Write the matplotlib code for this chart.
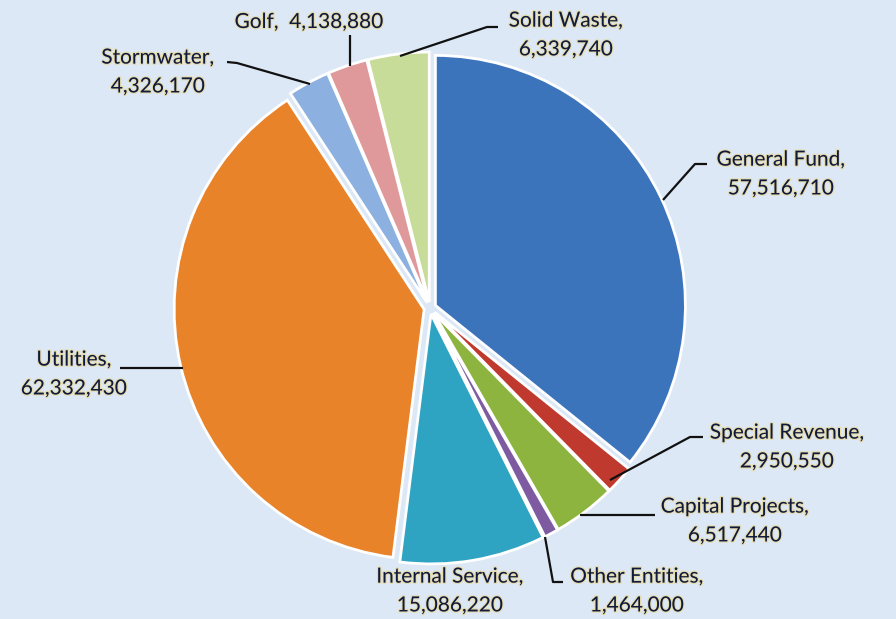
import matplotlib.pyplot as plt
import matplotlib.patheffects as pe

# Data (clockwise from 12 o'clock)
categories = ["General Fund", "Special Revenue", "Capital Projects", "Other Entities",
              "Internal Service", "Utilities", "Stormwater", "Golf", "Solid Waste"]
values = [57516710, 2950550, 6517440, 1464000, 15086220, 62332430, 4326170, 4138880, 6339740]
colors = ["#3c74bc", "#c0392f", "#8db43e", "#7e5aa0", "#2fa3c2",
          "#e8832a", "#8cb0e0", "#e0999a", "#c8dc9a"]

# label text layout, in pixel coords of the 896x619 image
label_pos = {
    "General Fund": (781, 174),
    "Special Revenue": (787, 447),
    "Capital Projects": (735, 521),
    "Other Entities": (637, 591),
    "Internal Service": (450, 591),
    "Utilities": (74, 374),
    "Stormwater": (158, 72),
    "Golf": (309, 22),
    "Solid Waste": (566, 35),
}
leaders = {
    "General Fund": [(663, 200), (695, 164), (707, 164)],
    "Special Revenue": [(610, 480), (690, 437), (703, 437)],
    "Capital Projects": [(580, 515), (655, 515)],
    "Other Entities": [(545, 537), (553, 582), (563, 582)],
    "Utilities": [(120, 368), (183, 368)],
    "Stormwater": [(227, 62), (237, 63), (310, 84)],
    "Golf": [(350, 35), (350, 66)],
    "Solid Waste": [(400, 56), (487, 27), (498, 27)],
}

W, H = 896, 619
fig = plt.figure(figsize=(W / 100, H / 100), dpi=100)
fig.patch.set_facecolor("#dce8f5")
ax = fig.add_axes([0, 0, 1, 1])
ax.set_facecolor("#dce8f5")
ax.axis("off")

# y axis inverted -> counterclock=True draws clockwise on screen
wedges, _ = ax.pie(values, colors=colors, startangle=-90, counterclock=True,
                   center=(430, 308), radius=250, explode=[6] * len(values),
                   wedgeprops=dict(edgecolor="white", linewidth=2))
ax.set_xlim(0, W)
ax.set_ylim(H, 0)

glow = [pe.withStroke(linewidth=1.8, foreground="#eed27a", alpha=0.55)]

for cat, val in zip(categories, values):
    x, y = label_pos[cat]
    if cat == "Golf":
        txt = f"{cat},  {val:,}"
    else:
        txt = f"{cat},\n{val:,}"
    ax.text(x, y, txt, ha="center", va="center", fontsize=15, family="Lato",
            color="#0e1a3e", linespacing=1.55, path_effects=glow)
    if cat in leaders:
        xs, ys = zip(*leaders[cat])
        ax.plot(xs, ys, color="#111111", lw=1.6, solid_capstyle="butt")

fig.savefig("out.png", dpi=100, facecolor=fig.get_facecolor())
